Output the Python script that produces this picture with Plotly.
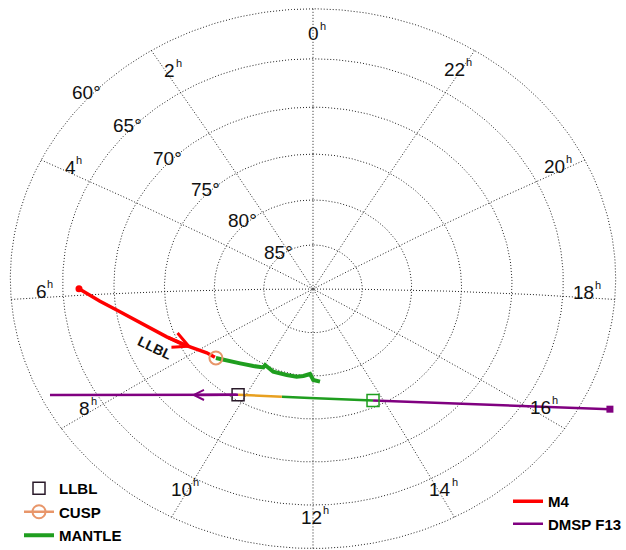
import numpy as np
import plotly.graph_objects as go

# ---------------- data (magnetic local time in hours, magnetic latitude in degrees) ----------------
M4_LLBL_MLT = [5.88, 6.14, 6.36, 6.62, 6.90, 7.27, 7.61, 7.95, 8.21, 8.48]
M4_LLBL_LAT = [66.57, 68.54, 70.06, 71.51, 72.91, 74.17, 75.23, 76.28, 76.93, 77.29]
M4_MANTLE_MLT = [8.52, 8.69, 8.92, 9.22, 9.66, 10.01, 10.02, 10.43, 10.97, 11.36, 11.62, 11.88, 12.01, 12.26]
M4_MANTLE_LAT = [77.32, 77.68, 78.10, 78.67, 79.25, 79.66, 79.98, 79.66, 79.75, 79.77, 79.94, 80.22, 79.53, 79.31]

F13_DUSK_MLT = [16.52, 16.24, 15.77, 15.05, 14.35, 13.74]
F13_DUSK_LAT = [57.24, 61.63, 66.78, 71.55, 74.26, 75.76]
F13_MANTLE_MLT = [13.74, 12.83, 11.90, 11.02]
F13_MANTLE_LAT = [75.76, 76.97, 77.43, 77.19]
F13_CUSP_MLT = [11.02, 10.38, 9.81]
F13_CUSP_LAT = [77.19, 76.56, 75.61]
F13_DAWN_MLT = [9.81, 9.04, 8.33, 7.84, 7.49]
F13_DAWN_LAT = [75.61, 73.22, 69.42, 65.24, 60.89]

GRID_LATS = [60, 65, 70, 75, 80, 85]
GRID_MLTS = list(range(0, 24, 2))
MLT_LABELS = ['0', '2', '4', '6', '8', '10', '12', '14', '16', '18', '20', '22']
LAT_LABELS = ['60°', '65°', '70°', '75°', '80°', '85°']
LEGEND_LEFT = ['LLBL', 'CUSP', 'MANTLE']
LEGEND_RIGHT = ['M4', 'DMSP F13']

# ---------------- projection: tilted polar stereographic view, drawn on cartesian axes ----------------
D = np.radians(16.4)          # tilt of the view centre from the pole toward 12 MLT
KX, KY = 1105.0, 985.0        # horizontal / vertical scale (px)
CX, CY = 313.0, 431.0         # pixel of the view centre
W, H = 626, 550


def proj(mlt, lat):
    mlt = np.asarray(mlt, float); lat = np.asarray(lat, float)
    c = np.radians(90 - lat); a = np.radians(mlt * 15)
    x = -np.sin(a) * np.sin(c); y = np.cos(a) * np.sin(c); z = np.cos(c)
    y2 = y * np.cos(D) + z * np.sin(D)
    z2 = z * np.cos(D) - y * np.sin(D)
    return x / (1 + z2), y2 / (1 + z2)


fig = go.Figure()

# grid
gx, gy = [], []
for lat in GRID_LATS:
    X, Y = proj(np.linspace(0, 24, 481), np.full(481, lat))
    gx += list(X) + [None]; gy += list(Y) + [None]
for h in GRID_MLTS:
    X, Y = proj(np.full(61, h), np.linspace(60, 90, 61))
    gx += list(X) + [None]; gy += list(Y) + [None]
fig.add_trace(go.Scatter(x=gx, y=gy, mode='lines', line=dict(color='#222', width=1, dash='1px,2px'),
                         hoverinfo='skip', showlegend=False))

PURPLE, RED, GREEN, ORANGE, SALMON = '#800080', '#ff0000', '#1f9e1f', '#e8a020', '#e8966a'


def add_line(mlt, lat, color, width, name=None, legend='legend', rank=1):
    X, Y = proj(mlt, lat)
    fig.add_trace(go.Scatter(x=X, y=Y, mode='lines', line=dict(color=color, width=width),
                             name=name, showlegend=name is not None, legend=legend,
                             legendrank=rank, legendgroup=name or str(mlt[0])))


add_line(F13_DUSK_MLT, F13_DUSK_LAT, PURPLE, 2.5, LEGEND_RIGHT[1], 'legend2', 2)
add_line(F13_MANTLE_MLT, F13_MANTLE_LAT, GREEN, 2.5)
add_line(F13_CUSP_MLT, F13_CUSP_LAT, ORANGE, 2.5)
add_line(F13_DAWN_MLT, F13_DAWN_LAT, PURPLE, 2.5)
add_line(M4_LLBL_MLT, M4_LLBL_LAT, RED, 3.5, LEGEND_RIGHT[0], 'legend2', 1)
add_line(M4_MANTLE_MLT, M4_MANTLE_LAT, GREEN, 4, LEGEND_LEFT[2], 'legend', 3)

# boundary markers
X, Y = proj([F13_DAWN_MLT[0]], [F13_DAWN_LAT[0]])
fig.add_trace(go.Scatter(x=X, y=Y, mode='markers',
                         marker=dict(symbol='square-open', size=12, color='#2a1a2a', line=dict(width=1.5)),
                         name=LEGEND_LEFT[0], legend='legend', legendrank=1, legendgroup='LLBL'))
X, Y = proj([M4_MANTLE_MLT[0]], [M4_MANTLE_LAT[0]])
fig.add_trace(go.Scatter(x=X, y=Y, mode='lines+markers',
                         marker=dict(symbol='circle-open', size=13, color=SALMON, line=dict(width=2)),
                         line=dict(color=SALMON, width=2.5), name=LEGEND_LEFT[1], legend='legend',
                         legendrank=2, legendgroup='CUSP'))
X, Y = proj([F13_MANTLE_MLT[0]], [F13_MANTLE_LAT[0]])
fig.add_trace(go.Scatter(x=X, y=Y, mode='markers',
                         marker=dict(symbol='square-open', size=12, color=GREEN, line=dict(width=1.5)),
                         showlegend=False))
X, Y = proj([M4_LLBL_MLT[0]], [M4_LLBL_LAT[0]])
fig.add_trace(go.Scatter(x=X, y=Y, mode='markers', marker=dict(symbol='circle', size=7, color=RED), showlegend=False))
X, Y = proj([F13_DUSK_MLT[0]], [F13_DUSK_LAT[0]])
fig.add_trace(go.Scatter(x=X, y=Y, mode='markers', marker=dict(symbol='square', size=7, color=PURPLE), showlegend=False))

ann = []


def arrow_on(mlt, lat, i, frac, back, color, width, size):
    """Arrow head placed on the track between sample i and i+1 (direction of travel)."""
    X, Y = proj(mlt, lat)
    tx = X[i] + frac * (X[i + 1] - X[i]); ty = Y[i] + frac * (Y[i + 1] - Y[i])
    return dict(x=tx, y=ty, ax=X[i - back], ay=Y[i - back], xref='x', yref='y', axref='x', ayref='y',
                text='', showarrow=True, arrowhead=5, arrowwidth=width, arrowsize=size, arrowcolor=color)


ann.append(arrow_on(M4_LLBL_MLT, M4_LLBL_LAT, 6, 0.68, 1, RED, 3.2, 0.95))
ann.append(arrow_on(F13_DAWN_MLT, F13_DAWN_LAT, 1, 0.17, 1, PURPLE, 2.5, 0.8))

FONT = 'Liberation Sans, Arial, Helvetica, sans-serif'
MLT_POS = [(313.7, 33.3), (170, 70.8), (70, 167), (41, 291.7), (85, 408.3), (181.7, 489.2),
           (311.7, 517.5), (440, 489.2), (540, 407.5), (583.3, 292.2), (554.2, 166.3), (454.5, 69.7)]
for t, (px, py) in zip(MLT_LABELS, MLT_POS):
    hw = 5.3 * len(t)
    ann.append(dict(x=px / W, y=1 - py / H, xref='paper', yref='paper', text=t, showarrow=False,
                    xanchor='center', yanchor='middle', font=dict(family=FONT, size=19, color='#111')))
    ann.append(dict(x=(px + hw + 4) / W, y=1 - (py - 7.5) / H, xref='paper', yref='paper', text='h',
                    showarrow=False, xanchor='center', yanchor='middle',
                    font=dict(family=FONT, size=11, color='#111')))
LAT_POS = [(86.3, 92.2), (127, 125), (167, 158.3), (205.3, 189.7), (242.2, 220), (278, 252)]
for t, (px, py) in zip(LAT_LABELS, LAT_POS):
    ann.append(dict(x=px / W, y=1 - py / H, xref='paper', yref='paper', text=t, showarrow=False,
                    xanchor='center', yanchor='middle', font=dict(family=FONT, size=19, color='#111')))
ann.append(dict(x=155.3 / W, y=1 - 347.5 / H, xref='paper', yref='paper', text='<b>LLBL</b>', showarrow=False,
                xanchor='center', yanchor='middle', textangle=26,
                font=dict(family=FONT, size=14, color='#111')))

fig.update_layout(
    width=W, height=H, margin=dict(l=0, r=0, t=0, b=0, autoexpand=False),
    paper_bgcolor='white', plot_bgcolor='white',
    xaxis=dict(visible=False, range=[(0 - CX) / KX, (W - CX) / KX]),
    yaxis=dict(visible=False, range=[(CY - H) / KY, CY / KY]),
    annotations=ann,
    legend=dict(x=19 / W, y=1 - 472 / H, xanchor='left', yanchor='top', bgcolor='rgba(0,0,0,0)',
                traceorder='grouped', tracegroupgap=1,
                font=dict(family=FONT, size=15, color='black', weight='bold')),
    legend2=dict(x=508 / W, y=1 - 485 / H, xanchor='left', yanchor='top', bgcolor='rgba(0,0,0,0)',
                 traceorder='grouped', tracegroupgap=0,
                 font=dict(family=FONT, size=15, color='black', weight='bold')),
    showlegend=True,
)
fig.write_html("out.html", config={'displayModeBar': False},
               post_script="document.body.style.margin='0';document.body.style.overflow='hidden';")
